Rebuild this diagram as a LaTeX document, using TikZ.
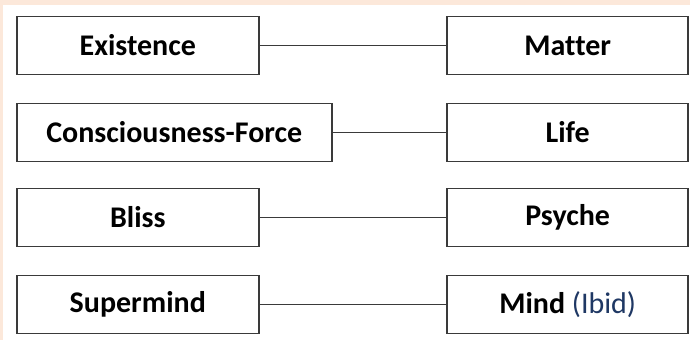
\documentclass[tikz,border=0pt]{standalone}
\usepackage{fontspec}
\setmainfont[Ligatures=NoCommon]{Carlito}
\usetikzlibrary{positioning}
\definecolor{peach}{HTML}{FCE8DA}
\definecolor{edgegray}{HTML}{3A3A3A}
\definecolor{ibidblue}{HTML}{1F3864}
\tikzset{
  box/.style={draw=edgegray, line width=1.6pt, fill=white, minimum height=58pt,
    inner sep=0pt, font=\bfseries\fontsize{30}{32}\selectfont},
  leftbox/.style={box, anchor=west, minimum width=242pt},
  rightbox/.style={box, anchor=east, minimum width=241pt},
  link/.style={draw=edgegray, line width=1.1pt}
}

\begin{document}
\begin{tikzpicture}[x=1pt, y=-1pt]
\useasboundingbox (0,0) rectangle (690,340);
\fill[peach] (0,0) rectangle (690,340);
\fill[white] (2.5,5) rectangle (690,340);

\node[leftbox] (exist) at (16,45.5) {Existence};
\node[leftbox, minimum width=315pt] (force) at (16,132.5) {Consciousness-Force};
\node[leftbox] (bliss) at (16,217.5) {Bliss};
\node[leftbox] (supermind) at (16,304.5) {Supermind};

\node[rightbox] (matter) at (689,45.5) {Matter};
\node[rightbox] (life) at (689,132.5) {Life};
\node[rightbox] (psyche) at (689,217.5) {Psyche};
\node[rightbox] (mind) at (689,304.5) {Mind {\mdseries\color{ibidblue}(Ibid)}};

\draw[link] (exist) -- (matter);
\draw[link] (force) -- (life);
\draw[link] (bliss) -- (psyche);
\draw[link] (supermind) -- (mind);
\end{tikzpicture}
\end{document}
